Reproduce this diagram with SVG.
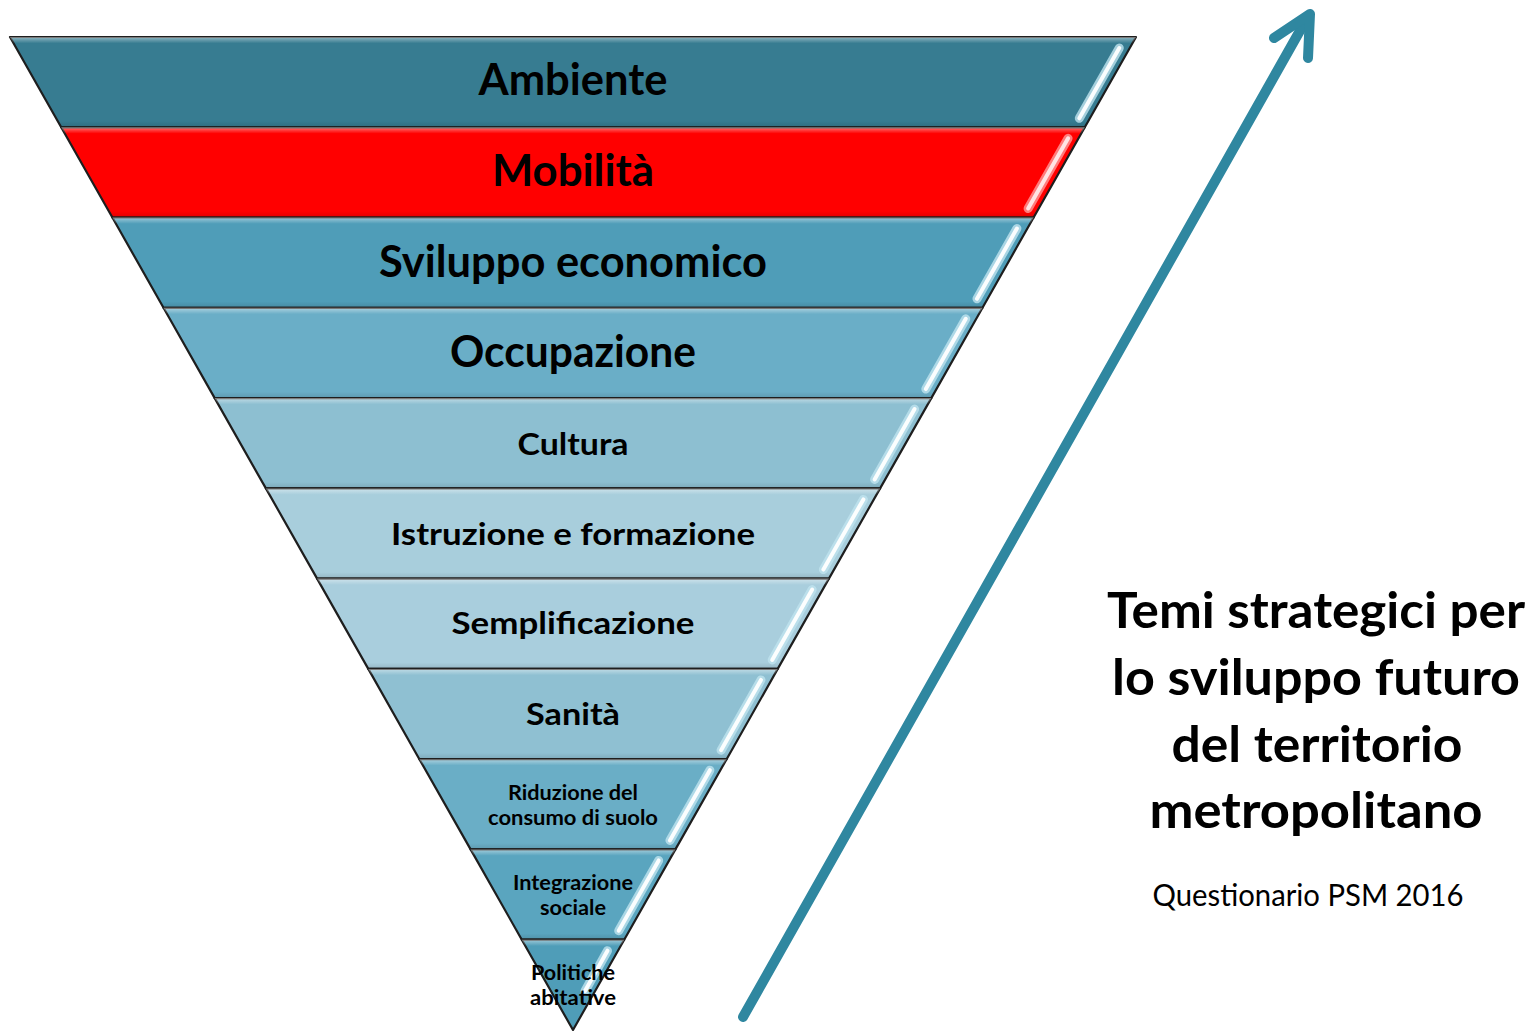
<svg xmlns="http://www.w3.org/2000/svg" width="1535" height="1031" viewBox="0 0 1535 1031">
<style>
.band{stroke:#1e1e1e;stroke-width:2.2;stroke-linejoin:round}
.bev{fill:url(#bevel);stroke:none}
.hl1{stroke:#bfe4ef;stroke-width:9;stroke-linecap:round;fill:none;opacity:.8}
.hl2{stroke:#ffffff;stroke-width:4;stroke-linecap:round;fill:none;opacity:.95}
.t{font-family:Lato,"Liberation Sans",sans-serif;font-weight:bold;fill:#000;text-anchor:middle}
.big{font-size:44px}
.mid{font-size:31px}
.sm{font-size:20px}
.title{font-family:Lato,"Liberation Sans",sans-serif;font-weight:bold;font-size:49px;text-anchor:middle;fill:#000}
.sub{font-family:Lato,"Liberation Sans",sans-serif;font-size:30px;text-anchor:middle;fill:#000}
.arrow{stroke:#2f87a0;stroke-width:10;stroke-linecap:round;stroke-linejoin:round;fill:none}
</style>
<defs>
<linearGradient id="bevel" x1="0" y1="0" x2="0" y2="1">
<stop offset="0" stop-color="#fff" stop-opacity=".45"/>
<stop offset=".07" stop-color="#fff" stop-opacity="0"/>
<stop offset=".93" stop-color="#000" stop-opacity="0"/>
<stop offset="1" stop-color="#000" stop-opacity=".12"/>
</linearGradient>
</defs>
<rect width="1535" height="1031" fill="#fff"/>

<g id="band-ambiente">
<polygon class="band" fill="#377c91" points="10,37 1136,37 1084.8,127.3 61.2,127.3"/>
<polygon class="bev" points="10,37 1136,37 1084.8,127.3 61.2,127.3"/>
<line class="hl1" x1="1119.3" y1="48" x2="1079.3" y2="118.3"/><line class="hl2" x1="1119.3" y1="48" x2="1079.3" y2="118.3"/>
<text class="t big" x="573" y="95" textLength="189" lengthAdjust="spacingAndGlyphs">Ambiente</text>
</g>
<g id="band-mobilita">
<polygon class="band" fill="#ff0000" points="61.2,127.3 1084.8,127.3 1033.6,217.5 112.4,217.5"/>
<polygon class="bev" points="61.2,127.3 1084.8,127.3 1033.6,217.5 112.4,217.5"/>
<line class="hl1" x1="1068.1" y1="138.3" x2="1028.1" y2="208.5" style="stroke:#ff9a9a"/><line class="hl2" x1="1068.1" y1="138.3" x2="1028.1" y2="208.5" style="opacity:.8"/>
<text class="t big" x="573" y="186" textLength="162" lengthAdjust="spacingAndGlyphs">Mobilità</text>
</g>
<g id="band-sviluppo">
<polygon class="band" fill="#4f9db8" points="112.4,217.5 1033.6,217.5 982.5,307.8 163.5,307.8"/>
<polygon class="bev" points="112.4,217.5 1033.6,217.5 982.5,307.8 163.5,307.8"/>
<line class="hl1" x1="1016.9" y1="228.5" x2="977" y2="298.8"/><line class="hl2" x1="1016.9" y1="228.5" x2="977" y2="298.8"/>
<text class="t big" x="573" y="277" textLength="388" lengthAdjust="spacingAndGlyphs">Sviluppo economico</text>
</g>
<g id="band-occupazione">
<polygon class="band" fill="#6aaec7" points="163.5,307.8 982.5,307.8 931.3,398.1 214.7,398.1"/>
<polygon class="bev" points="163.5,307.8 982.5,307.8 931.3,398.1 214.7,398.1"/>
<line class="hl1" x1="965.8" y1="318.8" x2="925.8" y2="389.1"/><line class="hl2" x1="965.8" y1="318.8" x2="925.8" y2="389.1"/>
<text class="t big" x="573" y="367" textLength="246" lengthAdjust="spacingAndGlyphs">Occupazione</text>
</g>
<g id="band-cultura">
<polygon class="band" fill="#8dbfd1" points="214.7,398.1 931.3,398.1 880.1,488.4 265.9,488.4"/>
<polygon class="bev" points="214.7,398.1 931.3,398.1 880.1,488.4 265.9,488.4"/>
<line class="hl1" x1="914.6" y1="409.1" x2="874.6" y2="479.4"/><line class="hl2" x1="914.6" y1="409.1" x2="874.6" y2="479.4"/>
<text class="t mid" x="573" y="455" textLength="111" lengthAdjust="spacingAndGlyphs">Cultura</text>
</g>
<g id="band-istruzione">
<polygon class="band" fill="#a8cedc" points="265.9,488.4 880.1,488.4 828.9,578.6 317.1,578.6"/>
<polygon class="bev" points="265.9,488.4 880.1,488.4 828.9,578.6 317.1,578.6"/>
<line class="hl1" x1="863.4" y1="499.4" x2="823.4" y2="569.6"/><line class="hl2" x1="863.4" y1="499.4" x2="823.4" y2="569.6"/>
<text class="t mid" x="573" y="545" textLength="364" lengthAdjust="spacingAndGlyphs">Istruzione e formazione</text>
</g>
<g id="band-semplificazione">
<polygon class="band" fill="#a9cedd" points="317.1,578.6 828.9,578.6 777.7,668.9 368.3,668.9"/>
<polygon class="bev" points="317.1,578.6 828.9,578.6 777.7,668.9 368.3,668.9"/>
<line class="hl1" x1="812.2" y1="589.6" x2="772.2" y2="659.9"/><line class="hl2" x1="812.2" y1="589.6" x2="772.2" y2="659.9"/>
<text class="t mid" x="573" y="634" textLength="243" lengthAdjust="spacingAndGlyphs">Semplificazione</text>
</g>
<g id="band-sanita">
<polygon class="band" fill="#8fc0d2" points="368.3,668.9 777.7,668.9 726.6,759.2 419.4,759.2"/>
<polygon class="bev" points="368.3,668.9 777.7,668.9 726.6,759.2 419.4,759.2"/>
<line class="hl1" x1="761" y1="679.9" x2="721.1" y2="750.2"/><line class="hl2" x1="761" y1="679.9" x2="721.1" y2="750.2"/>
<text class="t mid" x="573" y="725" textLength="94" lengthAdjust="spacingAndGlyphs">Sanità</text>
</g>
<g id="band-riduzione">
<polygon class="band" fill="#6aaec6" points="419.4,759.2 726.6,759.2 675.4,849.4 470.6,849.4"/>
<polygon class="bev" points="419.4,759.2 726.6,759.2 675.4,849.4 470.6,849.4"/>
<line class="hl1" x1="709.9" y1="770.2" x2="669.9" y2="840.4"/><line class="hl2" x1="709.9" y1="770.2" x2="669.9" y2="840.4"/>
<text class="t sm" x="573" y="800" textLength="130" lengthAdjust="spacingAndGlyphs">Riduzione del</text>
<text class="t sm" x="573" y="825" textLength="170" lengthAdjust="spacingAndGlyphs">consumo di suolo</text>
</g>
<g id="band-integrazione">
<polygon class="band" fill="#5aa5bf" points="470.6,849.4 675.4,849.4 624.2,939.7 521.8,939.7"/>
<polygon class="bev" points="470.6,849.4 675.4,849.4 624.2,939.7 521.8,939.7"/>
<line class="hl1" x1="658.7" y1="860.4" x2="618.7" y2="930.7"/><line class="hl2" x1="658.7" y1="860.4" x2="618.7" y2="930.7"/>
<text class="t sm" x="573" y="890" textLength="120" lengthAdjust="spacingAndGlyphs">Integrazione</text>
<text class="t sm" x="573" y="915" textLength="66" lengthAdjust="spacingAndGlyphs">sociale</text>
</g>
<g id="band-politiche">
<polygon class="band" fill="#4f9db8" points="521.8,939.7 624.2,939.7 573,1030"/>
<polygon class="bev" points="521.8,939.7 624.2,939.7 573,1030"/>
<line class="hl1" x1="607.5" y1="950.7" x2="585" y2="991"/><line class="hl2" x1="607.5" y1="950.7" x2="585" y2="991"/>
<text class="t sm" x="573" y="980" textLength="84" lengthAdjust="spacingAndGlyphs">Politiche</text>
<text class="t sm" x="573" y="1005" textLength="86" lengthAdjust="spacingAndGlyphs">abitative</text>
</g>

<g id="connectors">
<line class="arrow" x1="743" y1="1017" x2="1306" y2="20"/>
<polyline class="arrow" points="1274,38 1310,14 1308,58"/>
</g>

<g id="caption">
<text class="title" x="1316" y="628" textLength="418" lengthAdjust="spacingAndGlyphs">Temi strategici per</text>
<text class="title" x="1316" y="695" textLength="408" lengthAdjust="spacingAndGlyphs">lo sviluppo futuro</text>
<text class="title" x="1317" y="762" textLength="291" lengthAdjust="spacingAndGlyphs">del territorio</text>
<text class="title" x="1316" y="828" textLength="333" lengthAdjust="spacingAndGlyphs">metropolitano</text>
<text class="sub" x="1308" y="906" textLength="311" lengthAdjust="spacingAndGlyphs">Questionario PSM 2016</text>
</g>
</svg>
